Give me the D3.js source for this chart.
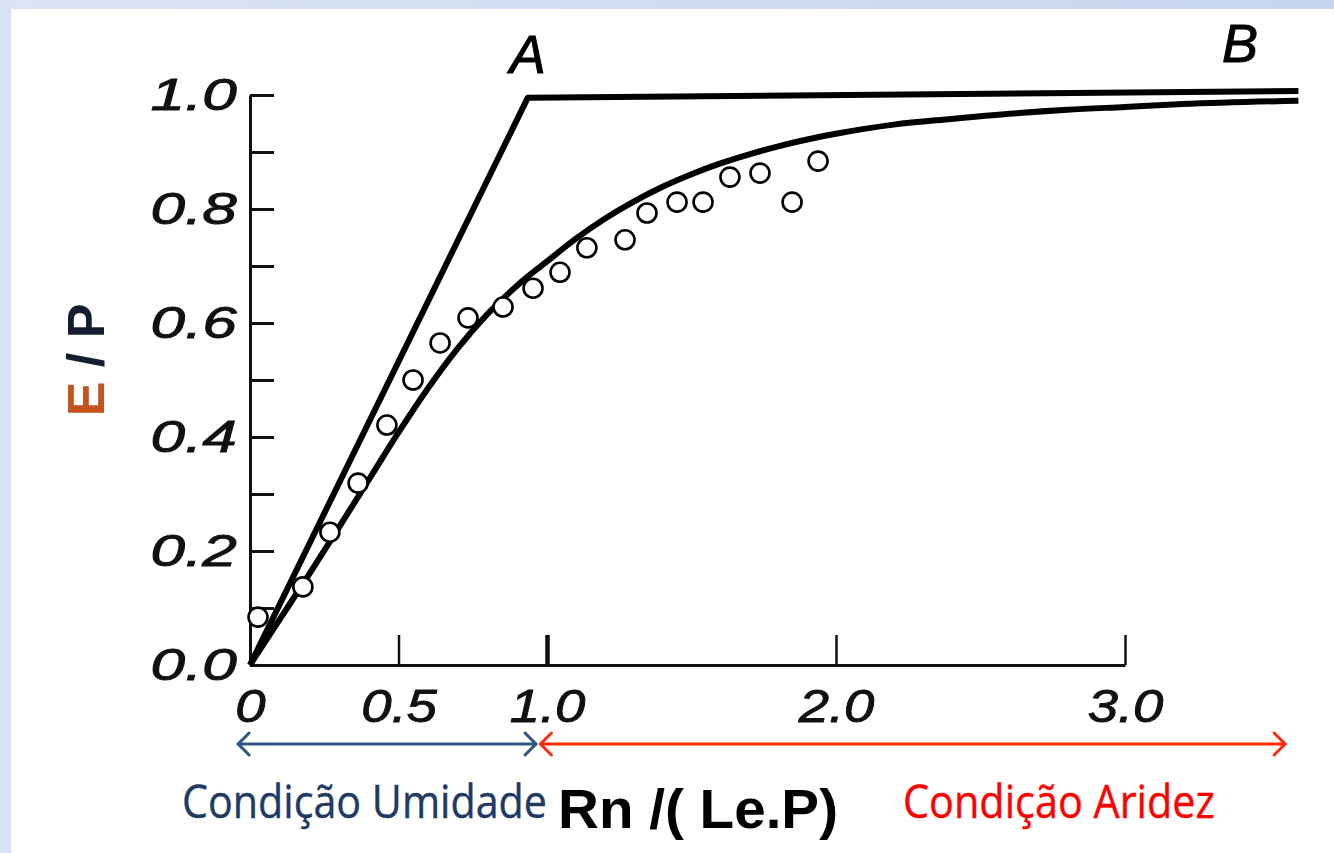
<!DOCTYPE html>
<html>
<head>
<meta charset="utf-8">
<script src="https://cdn.jsdelivr.net/npm/d3@7"></script>
<style>
  html, body { margin: 0; padding: 0; background: #ffffff; }
  svg { display: block; }
</style>
</head>
<body>
<svg id="chart" width="1334" height="853"></svg>
<script>
// Evaporation ratio E/P against the dryness index Rn/(Le.P)

// axis ticks
const xTickValues = [0, 0.5, 1, 2, 3];
const xTickLabels = ["0", "0.5", "1.0", "2.0", "3.0"];
const yTickValues = [0, 0.1, 0.2, 0.3, 0.4, 0.5, 0.6, 0.7, 0.8, 0.9, 1.0];
const yTickLabels = ["0.0", "", "0.2", "", "0.4", "", "0.6", "", "0.8", "", "1.0"];

// limiting envelope: energy limit from the origin to A, water limit from A to B
const limitX = [0, 0.935, 3.6];
const limitY = [0, 0.995, 1.007];

// fitted curve
const curveX = [0, 0.1, 0.2, 0.3, 0.4, 0.5, 0.6, 0.7, 0.8, 0.9, 1.0, 1.1, 1.2, 1.3, 1.4, 1.5, 1.6, 1.7, 1.8, 1.9, 2.0, 2.2, 2.4, 2.6, 2.8, 3.0, 3.2, 3.6];
const curveY = [0, 0.08, 0.16, 0.242, 0.325, 0.408, 0.486, 0.556, 0.616, 0.666, 0.708, 0.748, 0.783, 0.813, 0.839, 0.861, 0.88, 0.896, 0.91, 0.922, 0.932, 0.948, 0.958, 0.967, 0.974, 0.979, 0.984, 0.99];

// observed basins
const obsX = [0.027, 0.178, 0.269, 0.364, 0.461, 0.549, 0.640, 0.734, 0.852, 0.953, 1.045, 1.138, 1.270, 1.346, 1.450, 1.540, 1.633, 1.737, 1.848, 1.938];
const obsY = [0.084, 0.137, 0.233, 0.319, 0.421, 0.500, 0.565, 0.609, 0.628, 0.661, 0.689, 0.732, 0.746, 0.793, 0.812, 0.812, 0.856, 0.863, 0.812, 0.884];

// regime ranges along the index axis
const wetRange = [-0.04, 0.963];
const dryRange = [0.978, 3.554];

const svg = d3.select("#chart");
const W = 1334, H = 853;

// page frame
const defs = svg.append("defs");
const grad = defs.append("linearGradient").attr("id", "frameGrad")
  .attr("x1", "0%").attr("x2", "100%").attr("y1", "0%").attr("y2", "0%");
grad.append("stop").attr("offset", "0%").attr("stop-color", "#dbe4f4");
grad.append("stop").attr("offset", "100%").attr("stop-color", "#c5d5ee");
svg.append("rect").attr("width", W).attr("height", H).attr("fill", "#ffffff");
svg.append("rect").attr("x", 0).attr("y", 0).attr("width", W).attr("height", 9).attr("fill", "url(#frameGrad)");
svg.append("rect").attr("x", 0).attr("y", 0).attr("width", 11).attr("height", H).attr("fill", "#d9e2f3");

// scales (the printed axis is slightly wider below 1.0)
const x = d3.scaleLinear().domain([0, 1, 3]).range([250, 547, 1125]);
const y = d3.scaleLinear().domain([0, 1]).range([665, 95]);

const tickFont = "'Liberation Sans', Arial, sans-serif";

// y axis: inward ticks every 0.1, labels every 0.2
const yAxis = d3.axisLeft(y)
  .tickValues(yTickValues)
  .tickSize(-24)
  .tickSizeOuter(0)
  .tickPadding(9.5)
  .tickFormat((d, i) => yTickLabels[i]);
const gy = svg.append("g").attr("transform", "translate(250,0)").call(yAxis);
gy.select(".domain").attr("stroke", "#111").attr("stroke-width", 3);
gy.selectAll(".tick line").attr("stroke", "#111").attr("stroke-width", 3);
gy.selectAll(".tick text")
  .attr("font-family", tickFont).attr("font-style", "italic")
  .attr("font-size", 45).attr("fill", "#111")
  .attr("stroke", "#111").attr("stroke-width", 0.9)
  .attr("transform", "scale(1.38,1)");

// x axis: upward ticks
const xAxis = d3.axisBottom(x)
  .tickValues(xTickValues)
  .tickSize(-30)
  .tickSizeOuter(0)
  .tickPadding(24)
  .tickFormat((d, i) => xTickLabels[i]);
const gx = svg.append("g").attr("transform", "translate(0,665)").call(xAxis);
gx.select(".domain").attr("stroke", "#111").attr("stroke-width", 3);
gx.selectAll(".tick line").attr("stroke", "#111")
  .attr("stroke-width", d => d === 1 ? 4.5 : 2.5)
  .attr("opacity", d => d === 0 ? 0 : 1);
gx.selectAll(".tick text")
  .attr("font-family", tickFont).attr("font-style", "italic")
  .attr("font-size", 47).attr("fill", "#111")
  .attr("stroke", "#111").attr("stroke-width", 0.9)
  .attr("transform", "scale(1.16,1)");

// envelope and fitted curve
const line = d3.line().x(d => x(d[0])).y(d => y(d[1]));
svg.append("path")
  .datum(d3.zip(limitX, limitY))
  .attr("d", line)
  .attr("fill", "none").attr("stroke", "#000")
  .attr("stroke-width", 6).attr("stroke-linejoin", "round");

svg.append("path")
  .datum(d3.zip(curveX, curveY))
  .attr("d", line.curve(d3.curveMonotoneX))
  .attr("fill", "none").attr("stroke", "#000")
  .attr("stroke-width", 6);

// observations
svg.append("g").selectAll("circle")
  .data(d3.zip(obsX, obsY))
  .join("circle")
  .attr("cx", d => x(d[0])).attr("cy", d => y(d[1]))
  .attr("r", 9.5)
  .attr("fill", "#fff").attr("stroke", "#000").attr("stroke-width", 2.6);

// point labels A and B
[["A", x(limitX[1]), 73], ["B", 1240, 62]].forEach(([t, px, py]) => {
  svg.append("text").text(t)
    .attr("x", px).attr("y", py)
    .attr("text-anchor", "middle")
    .attr("font-family", tickFont).attr("font-style", "italic")
    .attr("font-size", 54).attr("fill", "#000")
    .attr("stroke", "#000").attr("stroke-width", 1);
});

// regime arrows
const arrowY = 744;
function doubleArrow(range, color) {
  const x0 = x(range[0]), x1 = x(range[1]);
  const g = svg.append("g").attr("stroke", color).attr("fill", "none")
    .attr("stroke-width", 3).attr("stroke-linecap", "round").attr("stroke-linejoin", "round");
  g.append("line").attr("x1", x0).attr("x2", x1).attr("y1", arrowY).attr("y2", arrowY);
  g.append("polyline").attr("points", `${x0 + 11},${arrowY - 11} ${x0},${arrowY} ${x0 + 11},${arrowY + 11}`);
  g.append("polyline").attr("points", `${x1 - 11},${arrowY - 11} ${x1},${arrowY} ${x1 - 11},${arrowY + 11}`);
}
doubleArrow(wetRange, "#2e5582");
doubleArrow(dryRange, "#ff2a08");

// axis titles
svg.append("text").text("Condição Umidade")
  .attr("x", 182).attr("y", 818)
  .attr("textLength", 365).attr("lengthAdjust", "spacingAndGlyphs")
  .attr("font-family", "'Open Sans', sans-serif").attr("font-size", 46)
  .attr("fill", "#1f3a63").attr("stroke", "#1f3a63").attr("stroke-width", 0.4);
svg.append("text").text("Rn /( Le.P)")
  .attr("x", 558).attr("y", 828)
  .attr("textLength", 280).attr("lengthAdjust", "spacingAndGlyphs")
  .attr("font-family", tickFont).attr("font-weight", "bold").attr("font-size", 56)
  .attr("fill", "#000");
svg.append("text").text("Condição Aridez")
  .attr("x", 903).attr("y", 818)
  .attr("textLength", 312).attr("lengthAdjust", "spacingAndGlyphs")
  .attr("font-family", "'Open Sans', sans-serif").attr("font-size", 46)
  .attr("fill", "#ff0000").attr("stroke", "#ff0000").attr("stroke-width", 0.4);

const yTitle = svg.append("text")
  .attr("transform", "translate(104,360) rotate(-90)")
  .attr("text-anchor", "middle")
  .attr("font-family", tickFont).attr("font-weight", "bold").attr("font-size", 52);
yTitle.append("tspan").text("E").attr("fill", "#c4541c");
yTitle.append("tspan").text(" / P").attr("fill", "#141c30");
</script>
</body>
</html>
